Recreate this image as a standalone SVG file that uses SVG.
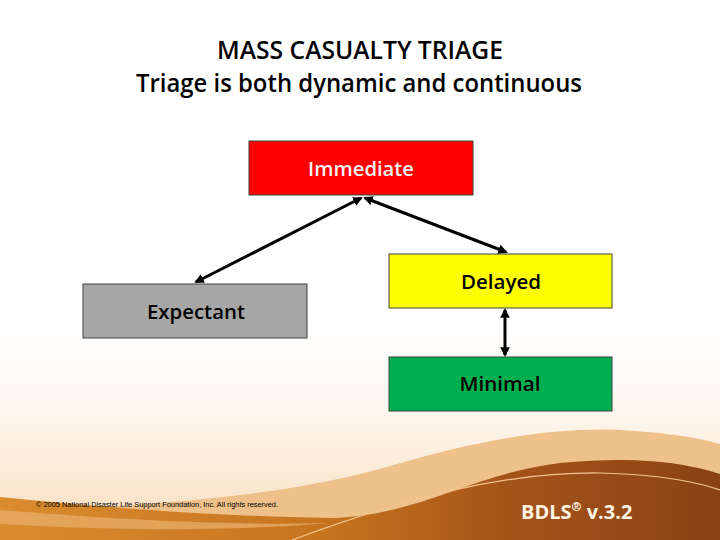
<svg xmlns="http://www.w3.org/2000/svg" width="720" height="540" viewBox="0 0 720 540">
  <style>
    .ttl { font-family: "Open Sans", "Liberation Sans", Arial, sans-serif; font-size: 25px; font-weight: 600; fill: #000; text-anchor: middle; }
    .lbl { font-family: "Open Sans", "Liberation Sans", Arial, sans-serif; font-size: 20px; font-weight: 600; text-anchor: middle; }
    .box { stroke: #404040; stroke-width: 1; }
    .conn { stroke: #000; stroke-width: 3; fill: none; marker-start: url(#ah); marker-end: url(#ah); }
  </style>
  <defs>
    <linearGradient id="bg" x1="0" y1="0" x2="0" y2="1">
      <stop offset="0" stop-color="#FFFFFF"/>
      <stop offset="0.6" stop-color="#FFFFFF"/>
      <stop offset="0.75" stop-color="#FEF8F1"/>
      <stop offset="0.93" stop-color="#F9E4CB"/>
    </linearGradient>
    <linearGradient id="brown" x1="0" y1="0" x2="1" y2="0">
      <stop offset="0" stop-color="#DA8C2E"/>
      <stop offset="0.45" stop-color="#C7741F"/>
      <stop offset="0.7" stop-color="#A55419"/>
      <stop offset="1" stop-color="#8A4215"/>
    </linearGradient>
    <marker id="ah" viewBox="0 0 10 10" refX="8" refY="5" markerWidth="3.2" markerHeight="3.2" orient="auto-start-reverse" markerUnits="strokeWidth">
      <path d="M0,0 L10,5 L0,10 Z" fill="#000"/>
    </marker>
  </defs>

  <g id="background">
    <rect x="0" y="0" width="720" height="540" fill="url(#bg)"/>
    <path d="M0,512 C150,506 290,496 390,466 C470,442 550,427 620,430 C670,433 700,438 720,444 L720,540 L0,540 Z" fill="#EEC08A"/>
    <path d="M0,497 C80,505 200,516 330,518 C420,516 470,474 560,463 C640,455 690,464 720,474 L720,540 L0,540 Z" fill="url(#brown)"/>
    <path d="M0,510 C100,518 220,526 330,523 C220,532 100,530 0,524 Z" fill="#E6AB66" opacity="0.8"/>
    <path d="M292,540 C400,500 500,472 600,473 C660,474 700,483 720,490" fill="none" stroke="#F3C48E" stroke-width="1.2"/>
  </g>

  <g id="title">
    <text class="ttl" x="360" y="59" textLength="286" lengthAdjust="spacingAndGlyphs">MASS CASUALTY TRIAGE</text>
    <text class="ttl" x="359" y="92" textLength="446" lengthAdjust="spacingAndGlyphs">Triage is both dynamic and continuous</text>
  </g>

  <g id="connectors">
    <line class="conn" x1="361" y1="198" x2="196" y2="282"/>
    <line class="conn" x1="365" y1="198" x2="506" y2="252"/>
    <line class="conn" x1="505" y1="310" x2="505" y2="355"/>
  </g>

  <g id="immediate">
    <rect class="box" x="249" y="141" width="224" height="54" fill="#FF0000" stroke="#8B0000"/>
    <text class="lbl" x="361" y="176" fill="#F2F2F2" textLength="106" lengthAdjust="spacingAndGlyphs">Immediate</text>
  </g>

  <g id="delayed">
    <rect class="box" x="389" y="254" width="223" height="54" fill="#FFFF00"/>
    <text class="lbl" x="501" y="289" fill="#000" textLength="80" lengthAdjust="spacingAndGlyphs">Delayed</text>
  </g>

  <g id="expectant">
    <rect class="box" x="83" y="284" width="224" height="54" fill="#A6A6A6"/>
    <text class="lbl" x="196" y="319" fill="#000" textLength="98" lengthAdjust="spacingAndGlyphs">Expectant</text>
  </g>

  <g id="minimal">
    <rect class="box" x="389" y="357" width="223" height="54" fill="#00B050"/>
    <text class="lbl" x="500" y="391" fill="#000" textLength="81" lengthAdjust="spacingAndGlyphs">Minimal</text>
  </g>

  <g id="footer">
    <text x="36" y="507" font-family="'Liberation Sans Narrow', 'Liberation Sans', Arial, sans-serif" font-size="7" fill="#000" textLength="242" lengthAdjust="spacingAndGlyphs">©  2005 National Disaster Life Support Foundation, Inc. All rights reserved.</text>
    <text x="521" y="519" font-family="'Open Sans', 'Liberation Sans', Arial, sans-serif" font-size="20" font-weight="bold" fill="#FFF4E2">BDLS<tspan font-size="12" dy="-8">®</tspan><tspan dy="8"> v.3.2</tspan></text>
  </g>
</svg>
